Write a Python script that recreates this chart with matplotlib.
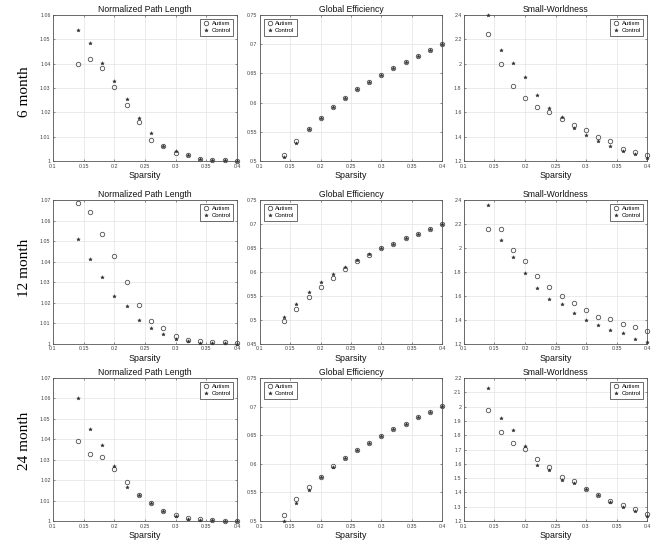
import matplotlib
matplotlib.use("Agg")
import matplotlib.pyplot as plt
from matplotlib.ticker import FuncFormatter
import numpy as np

sparsity = [0.14, 0.16, 0.18, 0.20, 0.22, 0.24, 0.26, 0.28, 0.30, 0.32, 0.34, 0.36, 0.38, 0.40]

# 6 month
npl6_aut = [1.0398, 1.0421, 1.0384, 1.0306, 1.0231, 1.0161, 1.0085, 1.0060, 1.0034, 1.0024, 1.0009, 1.0004, 1.0003, 1.0002]
npl6_ctl = [1.0538, 1.0485, 1.0402, 1.0327, 1.0254, 1.0176, 1.0115, 1.0060, 1.0041, 1.0024, 1.0010, 1.0004, 1.0003, 1.0002]
ge6_aut = [0.510, 0.534, 0.555, 0.574, 0.592, 0.608, 0.624, 0.636, 0.648, 0.659, 0.670, 0.680, 0.690, 0.700]
ge6_ctl = [0.506, 0.530, 0.554, 0.574, 0.592, 0.608, 0.624, 0.636, 0.648, 0.659, 0.670, 0.680, 0.690, 0.700]
sw6_aut = [2.245, 1.998, 1.819, 1.714, 1.640, 1.602, 1.544, 1.497, 1.456, 1.400, 1.365, 1.296, 1.272, 1.250]
sw6_ctl = [2.397, 2.113, 2.006, 1.893, 1.742, 1.637, 1.563, 1.470, 1.417, 1.365, 1.324, 1.285, 1.258, 1.228]

# 12 month
npl12_aut = [1.0687, 1.0642, 1.0537, 1.0428, 1.0301, 1.0191, 1.0110, 1.0079, 1.0040, 1.0021, 1.0013, 1.0008, 1.0008, 1.0006]
npl12_ctl = [1.0508, 1.0414, 1.0327, 1.0233, 1.0186, 1.0118, 1.0078, 1.0048, 1.0023, 1.0015, 1.0006, 1.0005, 1.0003, 1.0002]
ge12_aut = [0.497, 0.5225, 0.547, 0.568, 0.588, 0.607, 0.623, 0.6355, 0.649, 0.659, 0.670, 0.680, 0.690, 0.700]
ge12_ctl = [0.507, 0.534, 0.559, 0.580, 0.596, 0.611, 0.624, 0.637, 0.649, 0.659, 0.670, 0.680, 0.690, 0.700]
sw12_aut = [2.158, 2.161, 1.983, 1.894, 1.769, 1.678, 1.603, 1.542, 1.486, 1.422, 1.408, 1.369, 1.344, 1.308]
sw12_ctl = [2.358, 2.069, 1.922, 1.794, 1.667, 1.578, 1.531, 1.461, 1.403, 1.358, 1.314, 1.289, 1.244, 1.217]

# 24 month
npl24_aut = [1.0394, 1.0330, 1.0311, 1.0255, 1.0193, 1.0126, 1.0087, 1.0051, 1.0028, 1.0015, 1.0008, 1.0003, 1.0002, 1.0001]
npl24_ctl = [1.0604, 1.0451, 1.0371, 1.0268, 1.0167, 1.0129, 1.0087, 1.0049, 1.0023, 1.0010, 1.0005, 1.0003, 1.0002, 1.0001]
ge24_aut = [0.5105, 0.538, 0.559, 0.577, 0.5956, 0.611, 0.625, 0.637, 0.649, 0.660, 0.670, 0.681, 0.691, 0.7005]
ge24_ctl = [0.5006, 0.531, 0.555, 0.577, 0.595, 0.611, 0.625, 0.637, 0.649, 0.660, 0.670, 0.681, 0.691, 0.7005]
sw24_aut = [1.976, 1.825, 1.745, 1.706, 1.636, 1.578, 1.510, 1.480, 1.421, 1.380, 1.342, 1.314, 1.282, 1.251]
sw24_ctl = [2.132, 1.920, 1.839, 1.727, 1.589, 1.557, 1.489, 1.463, 1.424, 1.380, 1.335, 1.296, 1.268, 1.233]

row_labels = ["6 month", "12 month", "24 month"]
titles = ["Normalized Path Length", "Global Efficiency", "Small-Worldness"]
x_ticks = [0.1, 0.15, 0.2, 0.25, 0.3, 0.35, 0.4]

data = [
    [(npl6_aut, npl6_ctl), (ge6_aut, ge6_ctl), (sw6_aut, sw6_ctl)],
    [(npl12_aut, npl12_ctl), (ge12_aut, ge12_ctl), (sw12_aut, sw12_ctl)],
    [(npl24_aut, npl24_ctl), (ge24_aut, ge24_ctl), (sw24_aut, sw24_ctl)],
]
ylims = [
    [(1.0, 1.06, 0.01), (0.5, 0.75, 0.05), (1.2, 2.4, 0.2)],
    [(1.0, 1.07, 0.01), (0.45, 0.75, 0.05), (1.2, 2.4, 0.2)],
    [(1.0, 1.07, 0.01), (0.5, 0.75, 0.05), (1.2, 2.2, 0.1)],
]
leg_loc = ["upper right", "upper left", "upper right"]

W, H = 666, 547
fig = plt.figure(figsize=(W / 100, H / 100), dpi=100)
plt.rcParams['font.family'] = ['Liberation Sans', 'DejaVu Sans']

col_px = [(53, 237), (260, 442), (464, 647)]
row_px = [(15, 161), (200, 344), (378, 521)]
row_label_y = [92, 268, 441]

fmt = FuncFormatter(lambda v, p: ("%.4g" % v))

for r in range(3):
    for c in range(3):
        x0, x1 = col_px[c]
        y0, y1 = row_px[r]
        ax = fig.add_axes([x0 / W, 1 - y1 / H, (x1 - x0) / W, (y1 - y0) / H])
        aut, ctl = data[r][c]
        ax.plot(sparsity, aut, linestyle='none', marker='o', markersize=3.2,
                markerfacecolor='none', markeredgecolor='#505050', markeredgewidth=0.6,
                label='Autism', clip_on=False, zorder=3)
        ax.plot(sparsity, ctl, linestyle='none', marker='*', markersize=2.7,
                color='#303030', markeredgewidth=0.3, label='Control', clip_on=False, zorder=3)
        lo, hi, st = ylims[r][c]
        ax.set_xlim(0.1, 0.4)
        ax.set_ylim(lo, hi)
        ax.set_xticks(x_ticks)
        ax.set_yticks(np.round(np.arange(lo, hi + st / 2, st), 4))
        ax.xaxis.set_major_formatter(fmt)
        ax.yaxis.set_major_formatter(fmt)
        ax.tick_params(labelsize=3.8, length=1.5, width=0.4, direction='in',
                       colors='#404040', pad=1.8, top=True, right=True)
        ax.grid(True, color='#e3e3e3', linewidth=0.5)
        ax.set_axisbelow(True)
        for s in ax.spines.values():
            s.set_color('#555555')
            s.set_linewidth(0.6)
        ax.set_title(titles[c], fontsize=6.2, pad=2, color='#111111')
        ax.set_xlabel('Sparsity', fontsize=6.4, labelpad=2, color='#111111')
        leg = ax.legend(loc=leg_loc[c], fontsize=4.3, frameon=True, fancybox=False,
                        edgecolor='#333333', framealpha=1, borderpad=0.4,
                        handletextpad=0.3, handlelength=1.2, labelspacing=0.3,
                        borderaxespad=0.6)
        leg.get_frame().set_linewidth(0.5)
    fig.text(25 / W, 1 - row_label_y[r] / H, row_labels[r], rotation=90,
             ha='center', va='center', fontsize=11,
             family=['Liberation Serif', 'DejaVu Serif'])

fig.savefig('out.png', dpi=100)
